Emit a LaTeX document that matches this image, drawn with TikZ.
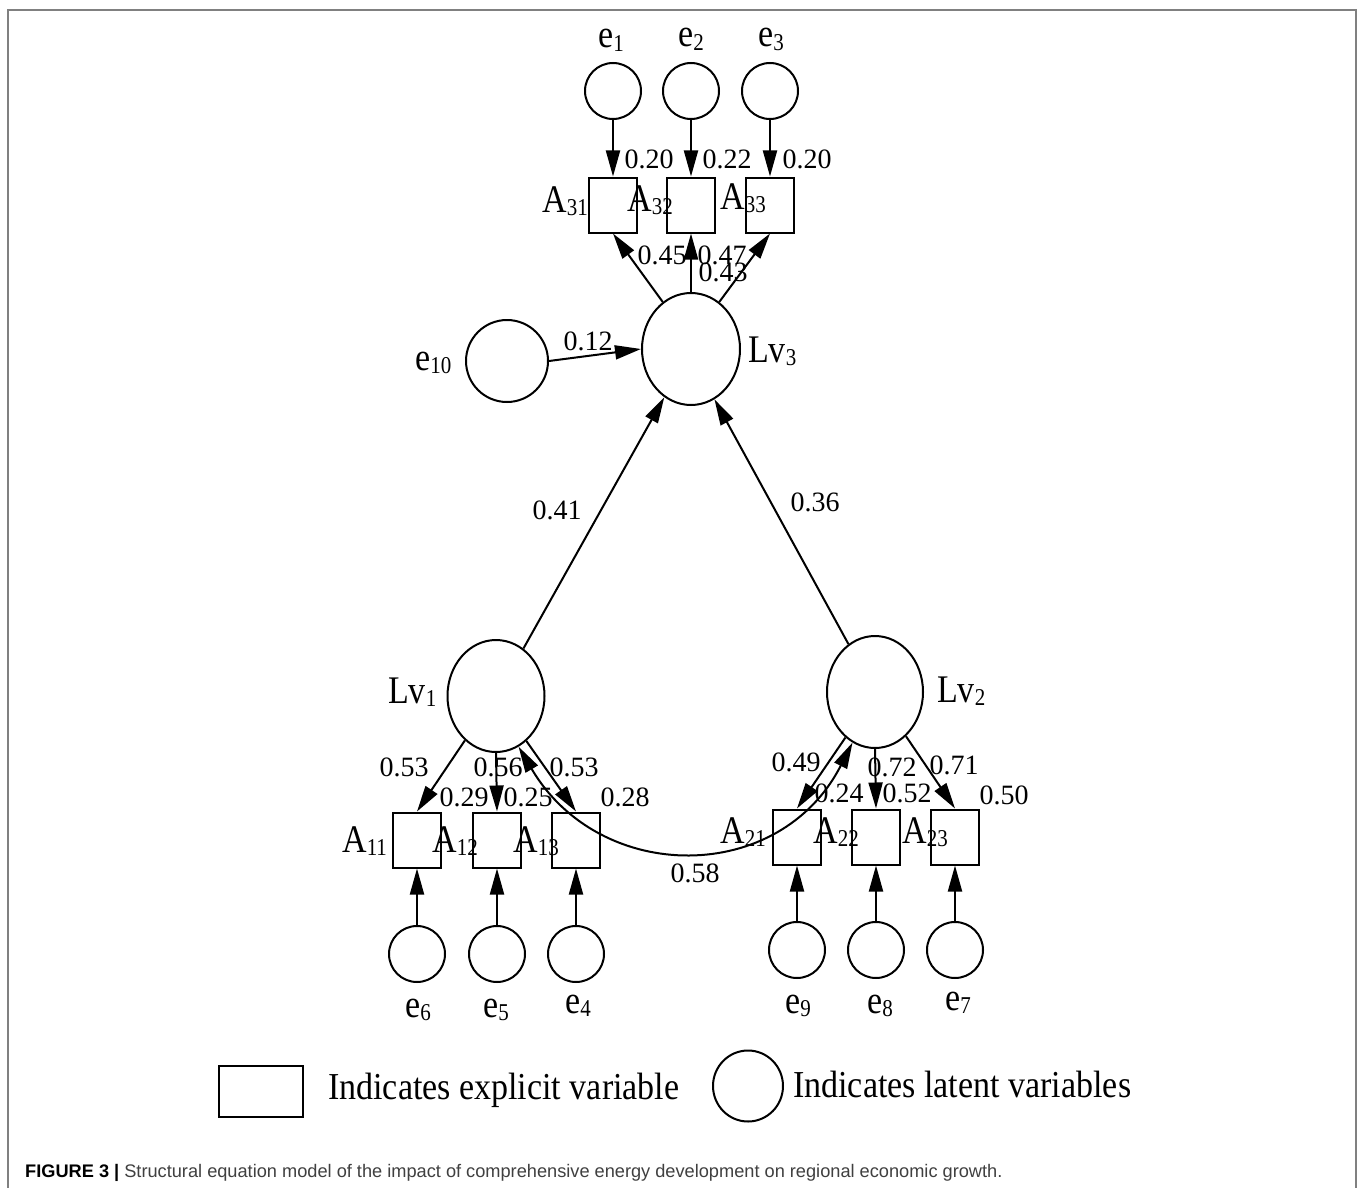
\documentclass[tikz,border=0pt]{standalone}
\usepackage{fontspec}
\setmainfont{Liberation Serif}
\newfontfamily\capfont{Liberation Sans}
\usepackage{graphicx}
\usetikzlibrary{shapes.geometric,arrows.meta}
\definecolor{capgray}{rgb}{0.25,0.25,0.25}
\definecolor{framegray}{rgb}{0.5,0.5,0.5}
\newcommand{\lbl}[2]{\scalebox{1}[1.15]{\fontsize{34}{34}\selectfont #1\raisebox{-3pt}{\fontsize{21}{21}\selectfont #2}}}
\tikzset{
  lat/.style 2 args={draw, ellipse, line width=2pt, inner sep=0pt, minimum width=#1, minimum height=#2},
  obs/.style={draw, rectangle, line width=2pt, inner sep=0pt, minimum width=48pt, minimum height=55pt},
  arr/.style={line width=2pt, -{Triangle[length=26pt,width=14pt]}},
  dbl/.style={line width=2pt, {Triangle[length=26pt,width=14pt]}-{Triangle[length=26pt,width=14pt]}},
  num/.style={font=\fontsize{28}{28}\selectfont, inner sep=0pt},
  txt/.style={inner sep=0pt, anchor=base west}
}
\begin{document}
\begin{tikzpicture}[x=1pt,y=-1pt]
\useasboundingbox (0,0) rectangle (1360,1188);
\fill[white] (0,0) rectangle (1360,1188);
\draw[framegray, line width=2pt] (8,1192) -- (8,10) -- (1356,10) -- (1356,1192);

% latent / error circles
\node[lat={56pt}{56pt}] (e1) at (613,91) {};
\node[lat={56pt}{56pt}] (e2) at (691,91) {};
\node[lat={56pt}{56pt}] (e3) at (770,91) {};
\node[lat={98pt}{112pt}] (Lv3) at (691,349) {};
\node[lat={82pt}{82pt}] (e10) at (507,361) {};
\node[lat={97pt}{112pt}] (Lv1) at (496,696) {};
\node[lat={96pt}{112pt}] (Lv2) at (875,692) {};
\node[lat={56pt}{56pt}] (e6) at (417,954) {};
\node[lat={56pt}{56pt}] (e5) at (497,954) {};
\node[lat={56pt}{56pt}] (e4) at (576,954) {};
\node[lat={56pt}{56pt}] (e9) at (797,950) {};
\node[lat={56pt}{56pt}] (e8) at (876,950) {};
\node[lat={56pt}{56pt}] (e7) at (955,950) {};

% observed boxes
\node[obs] (A31) at (613,205) {};
\node[obs] (A32) at (691,205) {};
\node[obs] (A33) at (770,205) {};
\node[obs] (A11) at (417,840) {};
\node[obs] (A12) at (497,840) {};
\node[obs] (A13) at (576,840) {};
\node[obs] (A21) at (797,837) {};
\node[obs] (A22) at (876,837) {};
\node[obs] (A23) at (955,837) {};

% connectors
\draw[arr] (e1) -- (A31);
\draw[arr] (e2) -- (A32);
\draw[arr] (e3) -- (A33);
\draw[arr] (Lv3.121) -- (A31.south);
\draw[arr] (Lv3.north) -- (A32.south);
\draw[arr] (Lv3.59) -- (A33.south);
\draw[arr] (e10.east) -- (Lv3.west);
\draw[arr] (Lv1.60) -- (Lv3.241);
\draw[arr] (Lv2.119) -- (Lv3.295);
\draw[arr] (Lv1.235) -- (A11.north);
\draw[arr] (Lv1.south) -- (A12.north);
\draw[arr] (Lv1.304) -- (A13.north);
\draw[arr] (Lv2.237) -- (A21.north);
\draw[arr] (Lv2.south) -- (A22.north);
\draw[arr] (Lv2.305) -- (A23.north);
\draw[dbl] (Lv1.294) .. controls (600,885) and (780,885) .. (Lv2.246);
\draw[arr] (e6) -- (A11);
\draw[arr] (e5) -- (A12);
\draw[arr] (e4) -- (A13);
\draw[arr] (e9) -- (A21);
\draw[arr] (e8) -- (A22);
\draw[arr] (e7) -- (A23);

% variable labels
\node[txt] (tA31) at (542,212) {\lbl{A}{31}};
\node[txt] (tA32) at (627,211) {\lbl{A}{32}};
\node[txt] (tA33) at (720,209) {\lbl{A}{33}};
\node[txt] (tA11) at (342,852) {\lbl{A}{11}};
\node[txt] (tA12) at (432,852) {\lbl{A}{12}};
\node[txt] (tA13) at (513,852) {\lbl{A}{13}};
\node[txt] (tA21) at (720,843) {\lbl{A}{21}};
\node[txt] (tA22) at (813,843) {\lbl{A}{22}};
\node[txt] (tA23) at (902,843) {\lbl{A}{23}};
\node[txt] (tLv1) at (388,703) {\lbl{Lv}{1}};
\node[txt] (tLv2) at (937,702) {\lbl{Lv}{2}};
\node[txt] (tLv3) at (748,362) {\lbl{Lv}{3}};
\node[txt] (te1) at (598,48) {\lbl{e}{1}};
\node[txt] (te2) at (678,47) {\lbl{e}{2}};
\node[txt] (te3) at (758,47) {\lbl{e}{3}};
\node[txt] (te10) at (415,370) {\lbl{e}{10}};
\node[txt] (te6) at (405,1017) {\lbl{e}{6}};
\node[txt] (te5) at (483,1017) {\lbl{e}{5}};
\node[txt] (te4) at (565,1013) {\lbl{e}{4}};
\node[txt] (te9) at (785,1013) {\lbl{e}{9}};
\node[txt] (te8) at (867,1013) {\lbl{e}{8}};
\node[txt] (te7) at (945,1010) {\lbl{e}{7}};

% coefficients
\node[num] (n1) at (649,159) {0.20};
\node[num] (n2) at (727,159) {0.22};
\node[num] (n3) at (807,159) {0.20};
\node[num] (n4) at (662,255) {0.45};
\node[num] (n5) at (722,255) {0.47};
\node[num] (n6) at (723,272) {0.43};
\node[num] (n7) at (588,341) {0.12};
\node[num] (n8) at (557,510) {0.41};
\node[num] (n9) at (815,502) {0.36};
\node[num] (n10) at (404,767) {0.53};
\node[num] (n11) at (498,767) {0.56};
\node[num] (n12) at (574,767) {0.53};
\node[num] (n13) at (464,797) {0.29};
\node[num] (n14) at (528,797) {0.25};
\node[num] (n15) at (625,797) {0.28};
\node[num] (n16) at (695,873) {0.58};
\node[num] (n17) at (796,762) {0.49};
\node[num] (n18) at (839,793) {0.24};
\node[num] (n19) at (892,767) {0.72};
\node[num] (n20) at (907,793) {0.52};
\node[num] (n21) at (954,765) {0.71};
\node[num] (n22) at (1004,795) {0.50};

% legend
\node[obs, minimum width=84pt, minimum height=51pt] (legbox) at (261,1091.5) {};
\node[txt] (legt1) at (328,1099) {\scalebox{1}[1.12]{\fontsize{34}{34}\selectfont Indicates explicit variable}};
\node[lat={70pt}{71pt}] (legcirc) at (748,1086) {};
\node[txt] (legt2) at (793,1097) {\scalebox{1}[1.12]{\fontsize{34}{34}\selectfont Indicates latent variables}};

% caption
\node[txt] (cap) at (25,1177) {\capfont\fontsize{18.2}{18.2}\selectfont\textbf{FIGURE 3 |} {\color{capgray}Structural equation model of the impact of comprehensive energy development on regional economic growth.}};
\end{tikzpicture}
\end{document}
